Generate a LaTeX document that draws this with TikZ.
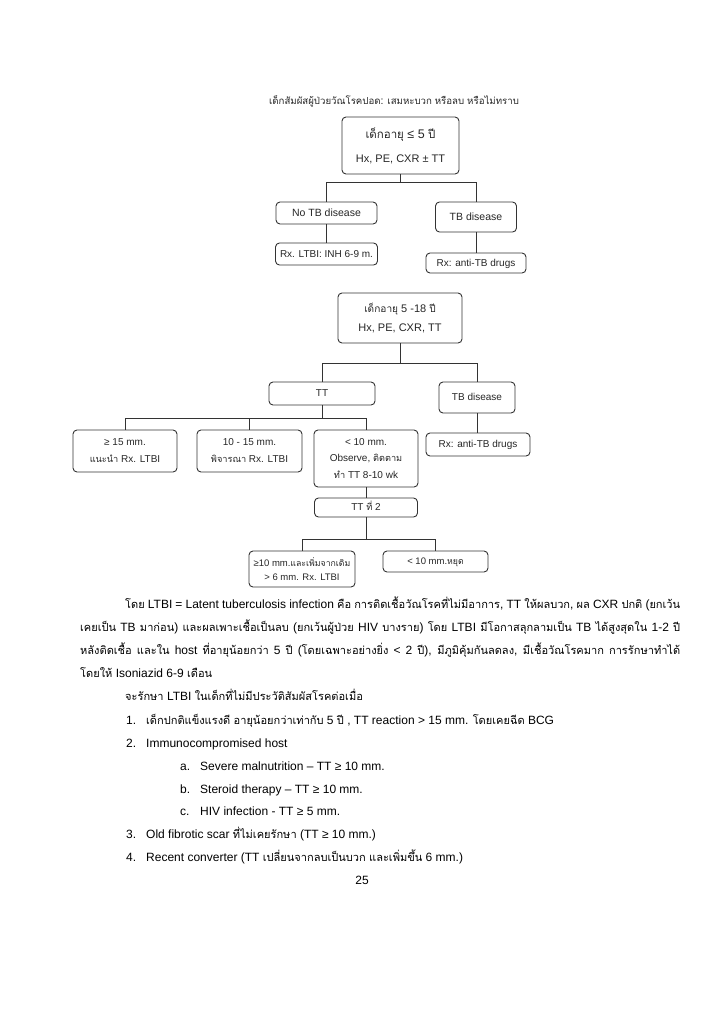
\documentclass[tikz,border=0pt]{standalone}
\usepackage{fontspec}
\setmainfont{Liberation Sans}
\newfontfamily\thaifont[Script=Thai,Scale=0.92]{Loma}
\newfontfamily\latinfont{Liberation Sans}
\XeTeXinterchartokenstate=1
\newXeTeXintercharclass\thaiclass
\count255="0E00
\loop\ifnum\count255<"0E80 \XeTeXcharclass\count255=\thaiclass \advance\count255 by 1 \repeat
\XeTeXinterchartoks 0 \thaiclass = {\thaifont}
\XeTeXinterchartoks 4095 \thaiclass = {\thaifont}
\XeTeXinterchartoks \thaiclass 0 = {\latinfont}
\XeTeXinterchartoks \thaiclass 4095 = {\latinfont}
\begin{document}
\begin{tikzpicture}[x=1pt,y=-1pt,
 basebox/.style={draw=black!80, line width=0.9pt, rounded corners=4pt, inner sep=0pt, font=\fontsize{10}{17}\selectfont, text=black!85},
 box/.style={basebox, align=center},
 sbox/.style={basebox, text height=7.6pt, text depth=1.4pt},
 conn/.style={draw=black!80, line width=0.9pt},
 txt/.style={inner sep=0pt, anchor=base west, font=\fontsize{12}{14}\selectfont}]
\useasboundingbox (0,0) rectangle (728,1031);
% title
\node[inner sep=0pt, font=\fontsize{10.5}{12}\selectfont, text=black!85] (title) at (394,101) {เด็กสัมผัสผู้ป่วยวัณโรคปอด: เสมหะบวก หรือลบ หรือไม่ทราบ};
% first tree
\node[box, minimum width=117pt, minimum height=57pt, font=\fontsize{11}{24}\selectfont] (b1) at (400.5,145.5) {{\fontsize{12.5}{24}\selectfont เด็กอายุ ≤ 5 ปี}\\Hx, PE, CXR ± TT};
\node[sbox, minimum width=101pt, minimum height=22pt, font=\fontsize{10.5}{12}\selectfont] (notb) at (326.5,213) {No TB disease};
\node[sbox, minimum width=81pt, minimum height=30pt, font=\fontsize{10.5}{12}\selectfont] (tbd1) at (476,217) {TB disease};
\node[sbox, minimum width=102pt, minimum height=22pt] (rx1) at (326.5,254) {Rx. LTBI: INH 6-9 m.};
\node[sbox, minimum width=100pt, minimum height=20pt] (rxa1) at (476,263) {Rx: anti-TB drugs};
\coordinate (j1) at (400.5,182);
\draw[conn] (b1.south) -- (j1) -| (notb.north);
\draw[conn] (j1) -| (tbd1.north);
\draw[conn] (notb.south) -- (notb.south |- rx1.north);
\draw[conn] (tbd1.south) -- (tbd1.south |- rxa1.north);
% second tree
\node[box, minimum width=124pt, minimum height=50pt, font=\fontsize{11}{19}\selectfont] (b2) at (400,318) {เด็กอายุ 5 -18 ปี\\Hx, PE, CXR, TT};
\node[sbox, minimum width=106pt, minimum height=23pt] (tt) at (322,393.5) {TT};
\node[sbox, minimum width=76pt, minimum height=31pt] (tbd2) at (477,397.5) {TB disease};
\node[box, minimum width=104pt, minimum height=42pt] (g15) at (125,451) {≥ 15 mm.\\แนะนำ Rx. LTBI};
\node[box, minimum width=105pt, minimum height=42pt] (m1015) at (249.5,451) {10 - 15 mm.\\พิจารณา Rx. LTBI};
\node[box, minimum width=104pt, minimum height=57pt, font=\fontsize{10}{16.5}\selectfont] (l10) at (366,458.5) {< 10 mm.\\Observe, ติดตาม\\ทำ TT 8-10 wk};
\node[sbox, minimum width=104pt, minimum height=23pt] (rxa2) at (478,444.5) {Rx: anti-TB drugs};
\node[sbox, minimum width=103pt, minimum height=19pt] (tt2) at (366,507.5) {TT ที่ 2};
\node[box, minimum width=106pt, minimum height=36pt, font=\fontsize{9.5}{14.5}\selectfont] (g10) at (302,569) {≥10 mm.และเพิ่มจากเดิม\\> 6 mm. Rx. LTBI};
\node[sbox, minimum width=105pt, minimum height=21pt, font=\fontsize{9.5}{12}\selectfont] (s10) at (435.5,561.5) {< 10 mm.หยุด};
\coordinate (j2) at (400,363);
\draw[conn] (b2.south) -- (j2) -| (tt.north);
\draw[conn] (j2) -| (tbd2.north);
\draw[conn] (tbd2.south) -- (tbd2.south |- rxa2.north);
\coordinate (j3) at (322,418);
\draw[conn] (tt.south) -- (j3) -| (g15.north);
\draw[conn] (j3) -| (m1015.north);
\draw[conn] (j3) -| (l10.north);
\draw[conn] (l10.south) -- (l10.south |- tt2.north);
\coordinate (j4) at (366,539);
\draw[conn] (tt2.south) -- (j4) -| (g10.north);
\draw[conn] (j4) -| (s10.north);
% paragraph
\node[txt] (p1) at (125,608) {\makebox[555pt][s]{โดย LTBI = Latent tuberculosis infection คือ การติดเชื้อวัณโรคที่ไม่มีอาการ, TT ให้ผลบวก, ผล CXR ปกติ (ยกเว้น}};
\node[txt] (p2) at (80,631) {\makebox[600pt][s]{เคยเป็น TB มาก่อน) และผลเพาะเชื้อเป็นลบ (ยกเว้นผู้ป่วย HIV บางราย) โดย LTBI มีโอกาสลุกลามเป็น TB ได้สูงสุดใน 1-2 ปี}};
\node[txt] (p3) at (80,654) {\makebox[600pt][s]{หลังติดเชื้อ และใน host ที่อายุน้อยกว่า 5 ปี (โดยเฉพาะอย่างยิ่ง < 2 ปี), มีภูมิคุ้มกันลดลง, มีเชื้อวัณโรคมาก การรักษาทำได้}};
\node[txt] (p4) at (80,677) {โดยให้ Isoniazid 6-9 เดือน};
\node[txt] (p5) at (125,700) {จะรักษา LTBI ในเด็กที่ไม่มีประวัติสัมผัสโรคต่อเมื่อ};
% list
\node[txt] (n1) at (126,724) {1.};
\node[txt] (i1) at (146,724) {เด็กปกติแข็งแรงดี อายุน้อยกว่าเท่ากับ 5 ปี , TT reaction > 15 mm. โดยเคยฉีด BCG};
\node[txt] (n2) at (126,747) {2.};
\node[txt] (i2) at (146,747) {Immunocompromised host};
\node[txt] (na) at (180,770) {a.};
\node[txt] (ia) at (200,770) {Severe malnutrition – TT ≥ 10 mm.};
\node[txt] (nb) at (180,793) {b.};
\node[txt] (ib) at (200,793) {Steroid therapy – TT ≥ 10 mm.};
\node[txt] (nc) at (180,815) {c.};
\node[txt] (ic) at (200,815) {HIV infection - TT ≥ 5 mm.};
\node[txt] (n3) at (126,838) {3.};
\node[txt] (i3) at (146,838) {Old fibrotic scar ที่ไม่เคยรักษา (TT ≥ 10 mm.)};
\node[txt] (n4) at (126,861) {4.};
\node[txt] (i4) at (146,861) {Recent converter (TT เปลี่ยนจากลบเป็นบวก และเพิ่มขึ้น 6 mm.)};
% page number
\node[inner sep=0pt, font=\fontsize{12}{14}\selectfont] (pg) at (362,880) {25};
\end{tikzpicture}
\end{document}
